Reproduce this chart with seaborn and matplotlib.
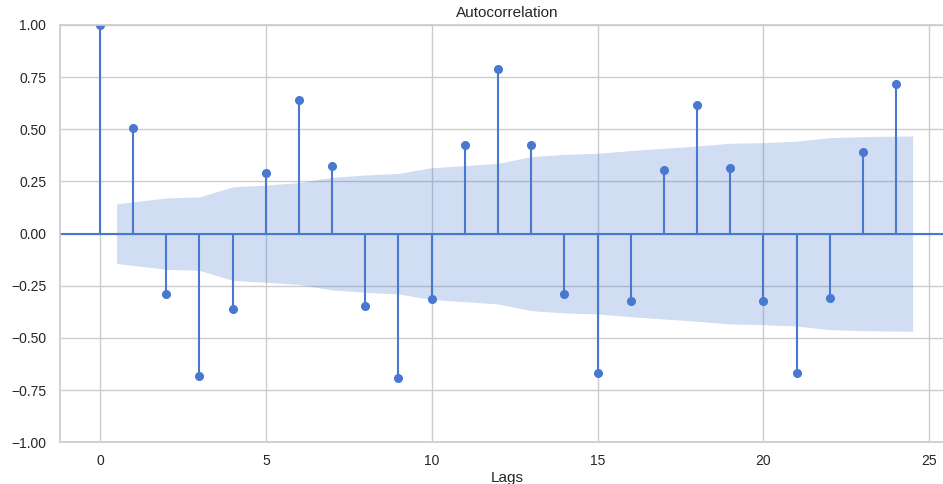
import numpy as np
import matplotlib
matplotlib.use("Agg")
import matplotlib.pyplot as plt
import seaborn as sns

# autocorrelation values, lags 0..24
lags = np.arange(25)
acf_vals = [1.0, 0.508, -0.290, -0.682, -0.359, 0.291, 0.642, 0.324, -0.347,
            -0.693, -0.313, 0.425, 0.788, 0.425, -0.291, -0.666, -0.324,
            0.307, 0.615, 0.313, -0.324, -0.666, -0.308, 0.392, 0.716]

# half-width of the confidence band, lags 1..24
band_vals = [0.143, 0.171, 0.176, 0.224, 0.233, 0.244, 0.270, 0.281, 0.289,
             0.316, 0.326, 0.337, 0.369, 0.380, 0.385, 0.398, 0.409, 0.420,
             0.433, 0.436, 0.443, 0.460, 0.465, 0.468]

sns.set_theme(style="whitegrid", palette="muted")
plt.rcParams["font.family"] = ["Liberation Sans", "DejaVu Sans"]

fig = plt.figure(figsize=(9.43, 4.84), dpi=100)
ax = fig.add_axes([0.0638, 0.0862, 0.9476, 0.8622])
blue = sns.color_palette("muted")[0]

# band: first and last lag pushed out by half a lag, like statsmodels does
band_x = lags[1:].astype(float)
band_x[0] -= 0.5
band_x[-1] += 0.5
band = np.array(band_vals)
ax.fill_between(band_x, -band, band, color=blue, alpha=0.25, linewidth=0)

ax.axhline(0, color=blue, lw=1.5)
ax.vlines(lags, 0, acf_vals, color=blue, lw=1.5)
ax.plot(lags, acf_vals, marker="o", markersize=5.5, linestyle="None", color=blue)

ax.set_xlim(-1.2, 25.74)
ax.set_ylim(-1, 1)
ax.set_yticks(np.arange(-1, 1.01, 0.25))
ax.set_yticklabels([f"{v:.2f}".replace("-", "\u2212") for v in np.arange(-1, 1.01, 0.25)])
ax.set_xticks([0, 5, 10, 15, 20, 25])
ax.tick_params(axis="y", labelsize=10, pad=4, colors=".15")
ax.tick_params(axis="x", labelsize=10, pad=2.5, colors=".15")
ax.set_title("Autocorrelation", fontsize=11, color=".15", pad=6)
ax.set_xlabel("Lags", fontsize=11, color=".15", labelpad=2)

fig.savefig("out.png", dpi=100)
